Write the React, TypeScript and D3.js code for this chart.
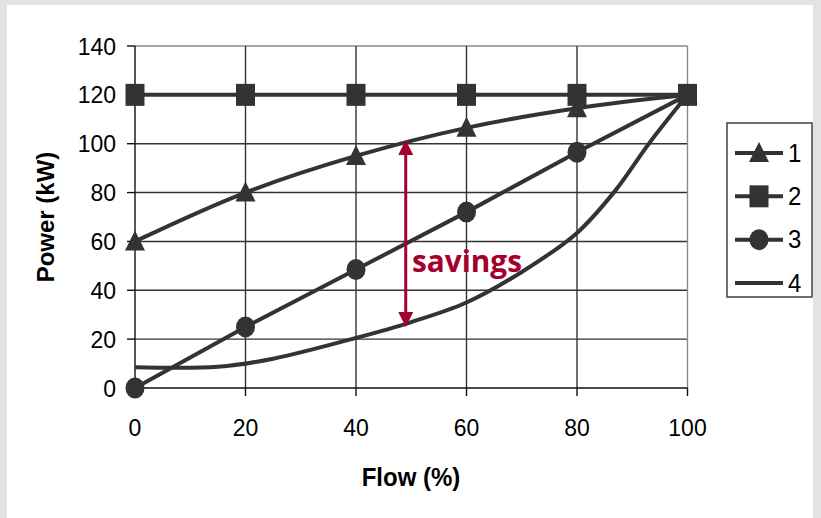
import { useEffect, useRef } from 'react';
import * as d3 from 'd3';

// flow (%) at the marked points
const flowPts = [0, 20, 40, 60, 80, 100];
const series1 = [60, 80, 95, 106.5, 114.5, 120];
const series2 = [120, 120, 120, 120, 120, 120];
const series3 = [0, 25, 48.5, 72, 96.5, 120];
// series 4 is a smooth curve without markers
const flow4 = [0, 15, 25, 40, 50, 60, 70, 80, 87, 93, 100];
const series4 = [8.5, 8.7, 12, 20.5, 27, 35, 47.5, 63.5, 81, 100, 120];

const yTicks = [0, 20, 40, 60, 80, 100, 120, 140];
const xTicks = [0, 20, 40, 60, 80, 100];
const legendLabels = ['1', '2', '3', '4'];

const W = 821;
const H = 518;
const INK = '#333333';
const RED = '#a5002c';

export default function App() {
  const svgRef = useRef<SVGSVGElement>(null);

  useEffect(() => {
    if (!svgRef.current) return;
    const svg = d3.select(svgRef.current);
    svg.selectAll('*').remove();

    // frame
    svg.append('rect').attr('width', W).attr('height', H).attr('fill', '#e3e4e1');
    svg.append('rect').attr('x', 7).attr('y', 5).attr('width', W - 15).attr('height', H - 5).attr('fill', '#fff');

    const x = d3.scaleLinear().domain([0, 100]).range([135, 687.5]);
    const y = d3.scaleLinear().domain([0, 140]).range([388, 46]);

    const g = svg.append('g');

    // grid
    g.selectAll('.hgrid')
      .data(yTicks.filter(v => v > 0))
      .enter().append('line')
      .attr('x1', x(0)).attr('x2', x(100))
      .attr('y1', d => y(d)).attr('y2', d => y(d))
      .attr('stroke', d => d === 140 ? '#8a8a8a' : INK)
      .attr('stroke-width', 1.4);

    g.selectAll('.vgrid')
      .data(xTicks.filter(v => v > 0))
      .enter().append('line')
      .attr('y1', y(0)).attr('y2', y(140))
      .attr('x1', d => x(d)).attr('x2', d => x(d))
      .attr('stroke', d => d === 100 ? '#8a8a8a' : INK)
      .attr('stroke-width', 1.4);

    // axes
    g.append('line').attr('x1', x(0)).attr('x2', x(0)).attr('y1', y(0)).attr('y2', y(140))
      .attr('stroke', '#111').attr('stroke-width', 1.4);
    g.append('line').attr('x1', x(0)).attr('x2', x(100)).attr('y1', y(0)).attr('y2', y(0))
      .attr('stroke', '#111').attr('stroke-width', 1.4);

    g.selectAll('.ytick')
      .data(yTicks)
      .enter().append('line')
      .attr('x1', x(0) - 8).attr('x2', x(0))
      .attr('y1', d => y(d)).attr('y2', d => y(d))
      .attr('stroke', '#111').attr('stroke-width', 1.4);

    g.selectAll('.xtick')
      .data(xTicks)
      .enter().append('line')
      .attr('y1', y(0)).attr('y2', y(0) + 8)
      .attr('x1', d => x(d)).attr('x2', d => x(d))
      .attr('stroke', '#111').attr('stroke-width', 1.4);

    const font = 'Liberation Sans, Arial, sans-serif';

    // labels are slightly stretched vertically in the reference
    g.selectAll('.ylab')
      .data(yTicks)
      .enter().append('text')
      .attr('transform', d => `translate(116, ${y(d) + 8.5}) scale(1, 1.08)`)
      .attr('text-anchor', 'end')
      .attr('font-family', font)
      .attr('font-size', 23)
      .attr('fill', '#000')
      .text(d => d);

    g.selectAll('.xlab')
      .data(xTicks)
      .enter().append('text')
      .attr('transform', d => `translate(${x(d)}, 436) scale(1, 1.08)`)
      .attr('text-anchor', 'middle')
      .attr('font-family', font)
      .attr('font-size', 23)
      .attr('fill', '#000')
      .text(d => d);

    g.append('text')
      .attr('transform', `translate(54, 217) rotate(-90)`)
      .attr('text-anchor', 'middle')
      .attr('font-family', font)
      .attr('font-weight', 700)
      .attr('font-size', 24)
      .attr('fill', '#000')
      .text('Power (kW)');

    g.append('text')
      .attr('transform', 'translate(411, 486) scale(1, 1.08)')
      .attr('text-anchor', 'middle')
      .attr('font-family', font)
      .attr('font-weight', 700)
      .attr('font-size', 24)
      .attr('fill', '#000')
      .text('Flow (%)');

    // series
    const smooth = d3.line<[number, number]>()
      .x(d => x(d[0])).y(d => y(d[1]))
      .curve(d3.curveCatmullRom.alpha(0.5));
    const straight = d3.line<[number, number]>()
      .x(d => x(d[0])).y(d => y(d[1]));

    const pts = (xs: number[], ys: number[]) => xs.map((v, i) => [v, ys[i]] as [number, number]);

    const lines = g.append('g')
      .attr('fill', 'none')
      .attr('stroke', INK)
      .attr('stroke-width', 4)
      .attr('stroke-linejoin', 'round');

    lines.append('path').attr('d', smooth(pts(flow4, series4)));
    lines.append('path').attr('d', straight(pts(flowPts, series3)));
    lines.append('path').attr('d', smooth(pts(flowPts, series1)));
    lines.append('path').attr('d', straight(pts(flowPts, series2)));

    const triangle = (cx: number, cy: number) =>
      `M${cx},${cy - 11} L${cx + 10},${cy + 9} L${cx - 10},${cy + 9} Z`;

    const markers = g.append('g').attr('fill', INK);

    markers.selectAll('.tri')
      .data(pts(flowPts, series1))
      .enter().append('path')
      .attr('d', d => triangle(x(d[0]), y(d[1])));

    markers.selectAll('.circ')
      .data(pts(flowPts, series3))
      .enter().append('ellipse')
      .attr('cx', d => x(d[0])).attr('cy', d => y(d[1]))
      .attr('rx', 9.5).attr('ry', 10.5);

    markers.selectAll('.sq')
      .data(pts(flowPts, series2))
      .enter().append('rect')
      .attr('x', d => x(d[0]) - 9.5).attr('y', d => y(d[1]) - 11)
      .attr('width', 19).attr('height', 22);

    // savings arrow
    const ax = x(49);
    const aTop = y(101.5);
    const aBot = y(25);
    const arrow = g.append('g').attr('fill', RED);
    arrow.append('line')
      .attr('x1', ax).attr('x2', ax)
      .attr('y1', aTop + 10).attr('y2', aBot - 10)
      .attr('stroke', RED).attr('stroke-width', 3);
    arrow.append('path').attr('d', `M${ax},${aTop} L${ax + 7.5},${aTop + 15} L${ax - 7.5},${aTop + 15} Z`);
    arrow.append('path').attr('d', `M${ax},${aBot} L${ax + 7.5},${aBot - 15} L${ax - 7.5},${aBot - 15} Z`);

    g.append('text')
      .attr('x', 412)
      .attr('y', 272)
      .attr('font-family', 'Open Sans, Noto Sans, sans-serif')
      .attr('font-weight', 700)
      .attr('font-size', 31)
      .attr('textLength', 110)
      .attr('lengthAdjust', 'spacingAndGlyphs')
      .attr('fill', RED)
      .text('savings');

    // legend
    const lg = svg.append('g');
    lg.append('rect')
      .attr('x', 727).attr('y', 123)
      .attr('width', 85).attr('height', 174)
      .attr('fill', '#fff')
      .attr('stroke', INK)
      .attr('stroke-width', 1.4);

    const ly = d3.scalePoint<string>().domain(legendLabels).range([153, 283]);

    const items = lg.selectAll('.item')
      .data(legendLabels)
      .enter().append('g')
      .attr('transform', d => `translate(0, ${ly(d)})`);

    items.append('line')
      .attr('x1', 735).attr('x2', 783)
      .attr('stroke', INK).attr('stroke-width', 4);

    items.append('text')
      .attr('transform', 'translate(788, 8.5) scale(1, 1.08)')
      .attr('font-family', font)
      .attr('font-size', 24)
      .attr('fill', '#000')
      .text(d => d);

    items.filter(d => d === '1').append('path').attr('d', triangle(759, 0)).attr('fill', INK);
    items.filter(d => d === '2').append('rect')
      .attr('x', 759 - 9.5).attr('y', -11).attr('width', 19).attr('height', 22).attr('fill', INK);
    items.filter(d => d === '3').append('ellipse')
      .attr('cx', 759).attr('cy', 0).attr('rx', 9.5).attr('ry', 10.5).attr('fill', INK);
  }, []);

  return (
    <div style={{ position: 'fixed', left: 0, top: 0 }}>
      <svg ref={svgRef} width={W} height={H} style={{ display: 'block' }} />
    </div>
  );
}
